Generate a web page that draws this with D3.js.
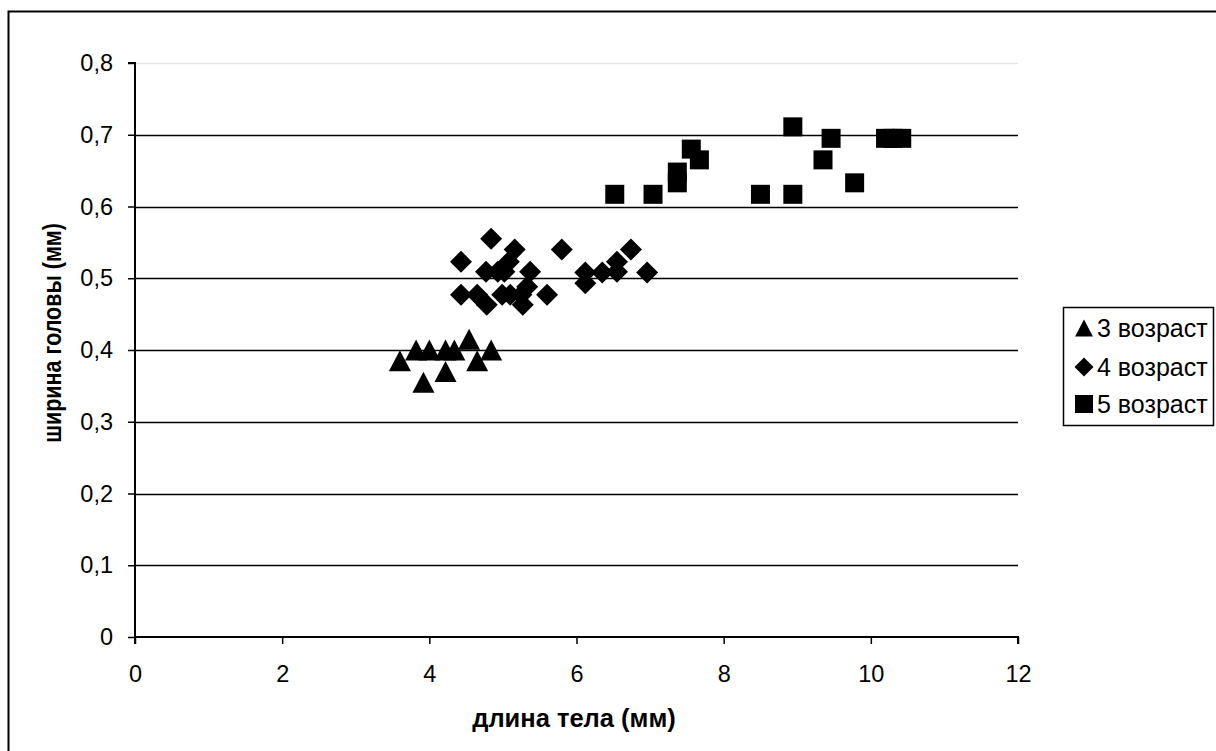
<!DOCTYPE html>
<html><head><meta charset="utf-8">
<script src="https://cdn.jsdelivr.net/npm/d3@7"></script>
<style>body{margin:0;background:#fff}svg{display:block}text{font-family:"Liberation Sans",Arial,sans-serif}</style>
</head><body><svg id="c" width="1216" height="751"></svg>
<script>
const xTicks = [0,2,4,6,8,10,12];
const yTicks = [0,0.1,0.2,0.3,0.4,0.5,0.6,0.7,0.8];
const seriesNames = ["3 возраст","4 возраст","5 возраст"];
const age3x = [3.6,3.82,4.0,4.22,4.34,4.54,4.84,4.65,4.22,3.92];
const age3y = [0.385,0.4,0.4,0.4,0.4,0.415,0.4,0.385,0.37,0.355];
const age4x = [4.84,4.43,5.16,5.8,4.77,4.93,5.08,5.37,4.43,4.65,4.78,4.99,5.1,5.27,5.33,5.6,6.12,6.12,6.35,6.55,6.55,6.74,6.96,5.02,5.25];
const age4y = [0.555,0.523,0.54,0.54,0.509,0.509,0.523,0.509,0.477,0.477,0.463,0.477,0.477,0.463,0.488,0.477,0.508,0.493,0.508,0.509,0.523,0.54,0.508,0.509,0.477];
const age5x = [6.52,7.04,7.37,7.37,7.56,7.67,8.94,9.46,9.35,9.78,8.94,8.5,10.2,10.3,10.42];
const age5y = [0.617,0.617,0.633,0.648,0.68,0.665,0.711,0.695,0.665,0.633,0.617,0.617,0.695,0.695,0.695];

const svg = d3.select("#c");
const L=135, R=1018, T=63, B=637;
const x = d3.scaleLinear().domain([0,12]).range([L,R]);
const y = d3.scaleLinear().domain([0,0.8]).range([B,T]);
const fmt = d => String(+d.toFixed(1)).replace(".", ",");
const FONT = "'Liberation Sans',Arial,sans-serif";

// outer border
svg.append("rect").attr("x",8.5).attr("y",11.5).attr("width",1220).attr("height",760)
  .attr("fill","none").attr("stroke","#000").attr("stroke-width",2);

// gridlines
svg.append("g").selectAll("line").data(yTicks.filter(d=>d>0)).join("line")
  .attr("x1",L).attr("x2",R).attr("y1",d=>Math.round(y(d))+0.5).attr("y2",d=>Math.round(y(d))+0.5)
  .attr("stroke",d=>d===0.8?"#e6e6e6":"#000").attr("stroke-width",1.5);

// axes
const yAxis = d3.axisLeft(y).tickValues(yTicks).tickFormat(fmt).tickSize(7).tickPadding(15);
const gy = svg.append("g").attr("transform",`translate(${L},0)`).call(yAxis);
const xAxis = d3.axisBottom(x).tickValues(xTicks).tickFormat(d=>d).tickSize(7).tickPadding(21);
const gx = svg.append("g").attr("transform",`translate(0,${B})`).call(xAxis);
[gy,gx].forEach(g=>{
  g.attr("font-size",23.5).attr("font-family",FONT);
  g.select(".domain").attr("stroke","#000").attr("stroke-width",2);
  g.selectAll(".tick line").attr("stroke","#000").attr("stroke-width",1.5);
  g.selectAll(".tick text").attr("fill","#000");
});
gy.select(".domain").attr("d",`M-7,${T}H0V${B}`);
gx.select(".domain").attr("d",`M${L},7V0H${R}V7`);

// titles
svg.append("text").attr("x",574).attr("y",727).attr("text-anchor","middle")
  .attr("font-size",25.5).attr("font-weight","bold").text("длина тела (мм)");
svg.append("text").attr("transform",`translate(61,333) scale(1.2,1) rotate(-90)`).attr("text-anchor","middle")
  .attr("font-size",21.5).attr("font-weight","bold").text("ширина головы (мм)");

// markers
const dia = s => `M0,${-s}L${s},0L0,${s}L${-s},0Z`;
const triPath = s => `M0,${-s}L${s*1.05},${s}L${-s*1.05},${s}Z`;
const plot = svg.append("g");
plot.selectAll(".s5").data(age5x.map((v,i)=>[v,age5y[i]])).join("rect")
  .attr("x",d=>x(d[0])-9.5).attr("y",d=>y(d[1])-9.5).attr("width",19).attr("height",19).attr("fill","#000");
plot.selectAll(".s4").data(age4x.map((v,i)=>[v,age4y[i]])).join("path")
  .attr("d",dia(11)).attr("transform",d=>`translate(${x(d[0])},${y(d[1])})`).attr("fill","#000");
plot.selectAll(".s3").data(age3x.map((v,i)=>[v,age3y[i]])).join("path")
  .attr("d",triPath(10.5)).attr("transform",d=>`translate(${x(d[0])},${y(d[1])})`).attr("fill","#000");

// legend
const lg = svg.append("g");
lg.append("rect").attr("x",1063.5).attr("y",307.5).attr("width",150).attr("height",118)
  .attr("fill","#fff").attr("stroke","#000").attr("stroke-width",1.5);
const rows = [328,367,404];
const shapes = [triPath(8.5), dia(9.5), "M-9,-9H9V9H-9Z"];
seriesNames.forEach((n,i)=>{
  lg.append("path").attr("d",shapes[i]).attr("transform",`translate(1084,${rows[i]})`).attr("fill","#000");
  lg.append("text").attr("x",1097).attr("y",rows[i]+8.5).attr("font-size",25).text(n);
});
</script></body></html>
